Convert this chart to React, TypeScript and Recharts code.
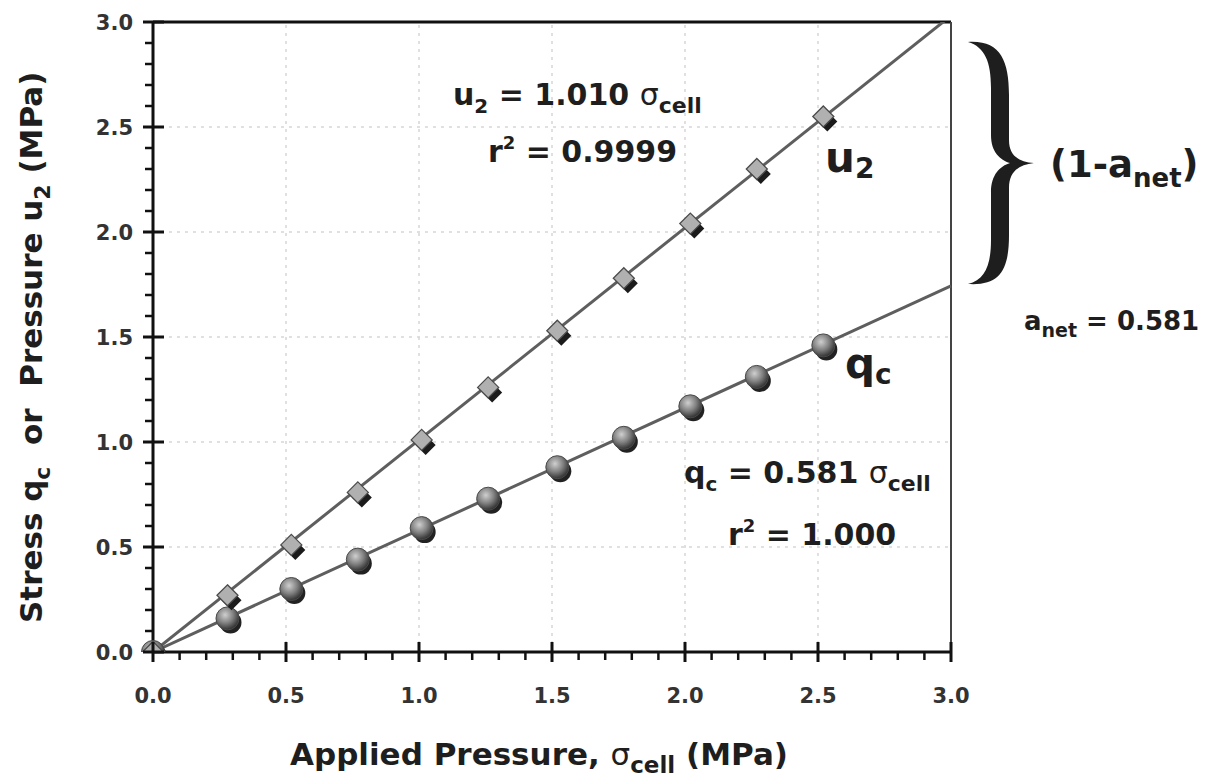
import React from 'react';
import {
  ComposedChart,
  Line,
  Scatter,
  XAxis,
  YAxis,
  ReferenceLine,
} from 'recharts';

// cell pressure steps (MPa)
const cellPressure = [0, 0.28, 0.52, 0.77, 1.01, 1.26, 1.52, 1.77, 2.02, 2.27, 2.52];
const u2Values = [0, 0.27, 0.51, 0.76, 1.01, 1.26, 1.53, 1.78, 2.04, 2.3, 2.55];
const qcValues = [0, 0.16, 0.3, 0.44, 0.59, 0.73, 0.88, 1.02, 1.17, 1.31, 1.46];

// regression lines end points
const fitX = [0, 3.0];
const fitU2 = [0, 3.03];
const fitQc = [0, 1.743];

const axisTicks = [
  0, 0.1, 0.2, 0.3, 0.4, 0.5, 0.6, 0.7, 0.8, 0.9, 1.0, 1.1, 1.2, 1.3, 1.4, 1.5,
  1.6, 1.7, 1.8, 1.9, 2.0, 2.1, 2.2, 2.3, 2.4, 2.5, 2.6, 2.7, 2.8, 2.9, 3.0,
];
const gridValues = [0.5, 1.0, 1.5, 2.0, 2.5];

const u2Data = cellPressure.map((x, i) => ({ x, y: u2Values[i] }));
const qcData = cellPressure.map((x, i) => ({ x, y: qcValues[i] }));
const u2Fit = fitX.map((x, i) => ({ x, y: fitU2[i] }));
const qcFit = fitX.map((x, i) => ({ x, y: fitQc[i] }));

const FONT = '"DejaVu Sans", sans-serif';
const isMajor = (v: number) => Math.abs(v * 2 - Math.round(v * 2)) < 1e-6;

const XTick = (props: any) => {
  const { x, y, payload } = props;
  const major = isMajor(payload.value);
  return (
    <g>
      {major ? (
        <line x1={x} y1={y - 10} x2={x} y2={y + 10} stroke="#111" strokeWidth={3} />
      ) : (
        <line x1={x} y1={y} x2={x} y2={y + 8} stroke="#111" strokeWidth={2.5} />
      )}
      {major && (
        <text x={x} y={y + 51} textAnchor="middle" fontFamily={FONT} fontWeight="bold" fontSize={21} fill="#333">
          {payload.value.toFixed(1)}
        </text>
      )}
    </g>
  );
};

const YTick = (props: any) => {
  const { x, y, payload } = props;
  const major = isMajor(payload.value);
  return (
    <g>
      {major ? (
        <line x1={x - 10} y1={y} x2={x + 11} y2={y} stroke="#111" strokeWidth={3} />
      ) : (
        <line x1={x - 8} y1={y} x2={x} y2={y} stroke="#111" strokeWidth={2.5} />
      )}
      {major && (
        <text x={x - 20} y={y + 8} textAnchor="end" fontFamily={FONT} fontWeight="bold" fontSize={21} fill="#333">
          {payload.value.toFixed(1)}
        </text>
      )}
    </g>
  );
};

const diamond = (cx: number, cy: number, r: number) =>
  `M${cx},${cy - r} L${cx + r},${cy} L${cx},${cy + r} L${cx - r},${cy} Z`;

const DiamondMark = (props: any) => {
  const { cx, cy } = props;
  return (
    <g>
      <path d={diamond(cx + 4, cy + 5, 10)} fill="#1b1b1b" />
      <path d={diamond(cx, cy, 10.5)} fill="#b0b0b0" stroke="#4a4a4a" strokeWidth={1.3} />
    </g>
  );
};

const BallMark = (props: any) => {
  const { cx, cy } = props;
  return (
    <g>
      <defs>
        <radialGradient id="ballGrad" cx="40%" cy="35%" r="65%">
          <stop offset="0%" stopColor="#cfcfcf" />
          <stop offset="55%" stopColor="#808080" />
          <stop offset="100%" stopColor="#333" />
        </radialGradient>
      </defs>
      <circle cx={cx + 3} cy={cy + 4} r={11} fill="#222" />
      <circle cx={cx} cy={cy} r={11.5} fill="url(#ballGrad)" stroke="#4a4a4a" strokeWidth={1} />
    </g>
  );
};

export default function App() {
  return (
    <div style={{ position: 'absolute', left: 0, top: 0, width: 1212, height: 783, background: '#fff' }}>
      <ComposedChart width={1212} height={783} margin={{ top: 22, right: 261, bottom: 0, left: 0 }}>
        {gridValues.map((v) => (
          <ReferenceLine key={'gx' + v} x={v} stroke="#d6d6d6" strokeWidth={1.5} strokeDasharray="3 5" />
        ))}
        {gridValues.map((v) => (
          <ReferenceLine key={'gy' + v} y={v} stroke="#d6d6d6" strokeWidth={1.5} strokeDasharray="3 5" />
        ))}
        <ReferenceLine y={3} stroke="#111" strokeWidth={3} />
        <ReferenceLine x={3} stroke="#444" strokeWidth={2} />
        <XAxis
          type="number"
          dataKey="x"
          domain={[0, 3]}
          ticks={axisTicks}
          interval={0}
          tickSize={0}
          tickMargin={0}
          height={131}
          axisLine={{ stroke: '#111', strokeWidth: 3 }}
          tickLine={false}
          tick={<XTick />}
        />
        <YAxis
          type="number"
          dataKey="y"
          domain={[0, 3]}
          allowDataOverflow
          ticks={axisTicks}
          interval={0}
          tickSize={0}
          tickMargin={0}
          width={153}
          axisLine={{ stroke: '#111', strokeWidth: 3 }}
          tickLine={false}
          tick={<YTick />}
        />
        <Line data={u2Fit} dataKey="y" type="linear" stroke="#5e5e5e" strokeWidth={3} dot={false} isAnimationActive={false} />
        <Line data={qcFit} dataKey="y" type="linear" stroke="#5e5e5e" strokeWidth={3} dot={false} isAnimationActive={false} />
        <Scatter data={qcData} dataKey="y" shape={<BallMark />} isAnimationActive={false} />
        <Scatter data={u2Data} dataKey="y" shape={<DiamondMark />} isAnimationActive={false} />
      </ComposedChart>

      <svg
        width={1212}
        height={783}
        style={{ position: 'absolute', left: 0, top: 0, pointerEvents: 'none' }}
        fontFamily={FONT}
        fontWeight="bold"
        fill="#1e1e1e"
      >
        {/* equations */}
        <text x={453} y={105} fontSize={30}>
          <tspan>u</tspan>
          <tspan dy={8} fontSize={20}>2</tspan>
          <tspan dy={-8}> = 1.010 </tspan>
          <tspan fontWeight="normal">σ</tspan>
          <tspan dy={8} fontSize={22}>cell</tspan>
        </text>
        <text x={488} y={162} fontSize={30}>
          <tspan>r</tspan>
          <tspan dy={-13} fontSize={18}>2</tspan>
          <tspan dy={13}> = 0.9999</tspan>
        </text>
        <text x={684} y={483} fontSize={30}>
          <tspan>q</tspan>
          <tspan dy={8} fontSize={20}>c</tspan>
          <tspan dy={-8}> = 0.581 </tspan>
          <tspan fontWeight="normal">σ</tspan>
          <tspan dy={8} fontSize={22}>cell</tspan>
        </text>
        <text x={728} y={545} fontSize={30}>
          <tspan>r</tspan>
          <tspan dy={-13} fontSize={18}>2</tspan>
          <tspan dy={13}> = 1.000</tspan>
        </text>

        {/* series labels */}
        <text x={825} y={172} fontSize={42}>
          <tspan>u</tspan>
          <tspan dy={6} fontSize={28}>2</tspan>
        </text>
        <text x={845} y={378} fontSize={42}>
          <tspan>q</tspan>
          <tspan dy={6} fontSize={28}>c</tspan>
        </text>

        {/* brace */}
        <path
          d="M968,42 C1000,40 1009,60 1009,95 L1009,140 C1009,155 1018,162 1034,163 C1018,165 1009,172 1009,188 L1009,235 C1009,270 1000,286 968,284 C985,280 991,265 991,240 L991,192 C991,175 1000,166 1010,163 C1000,160 991,152 991,135 L991,88 C991,62 985,47 968,42 Z"
          fill="#1e1e1e"
        />
        <text x={1050} y={177} fontSize={37}>
          <tspan>(1-a</tspan>
          <tspan dy={10} fontSize={26}>net</tspan>
          <tspan dy={-10}>)</tspan>
        </text>
        <text x={1024} y={330} fontSize={26}>
          <tspan>a</tspan>
          <tspan dy={7} fontSize={19}>net</tspan>
          <tspan dy={-7}> = 0.581</tspan>
        </text>

        {/* axis titles */}
        <text x={290} y={765} fontSize={31}>
          <tspan>Applied Pressure, </tspan>
          <tspan fontWeight="normal">σ</tspan>
          <tspan dy={8} fontSize={23}>cell</tspan>
          <tspan dy={-8}> (MPa)</tspan>
        </text>
        <text transform="translate(42,623) rotate(-90)" fontSize={31}>
          <tspan>Stress q</tspan>
          <tspan dy={8} fontSize={22}>c</tspan>
          <tspan dy={-8}>{'\u00a0\u00a0or\u00a0\u00a0Pressure u'}</tspan>
          <tspan dy={8} fontSize={22}>2</tspan>
          <tspan dy={-8}> (MPa)</tspan>
        </text>
      </svg>
    </div>
  );
}
